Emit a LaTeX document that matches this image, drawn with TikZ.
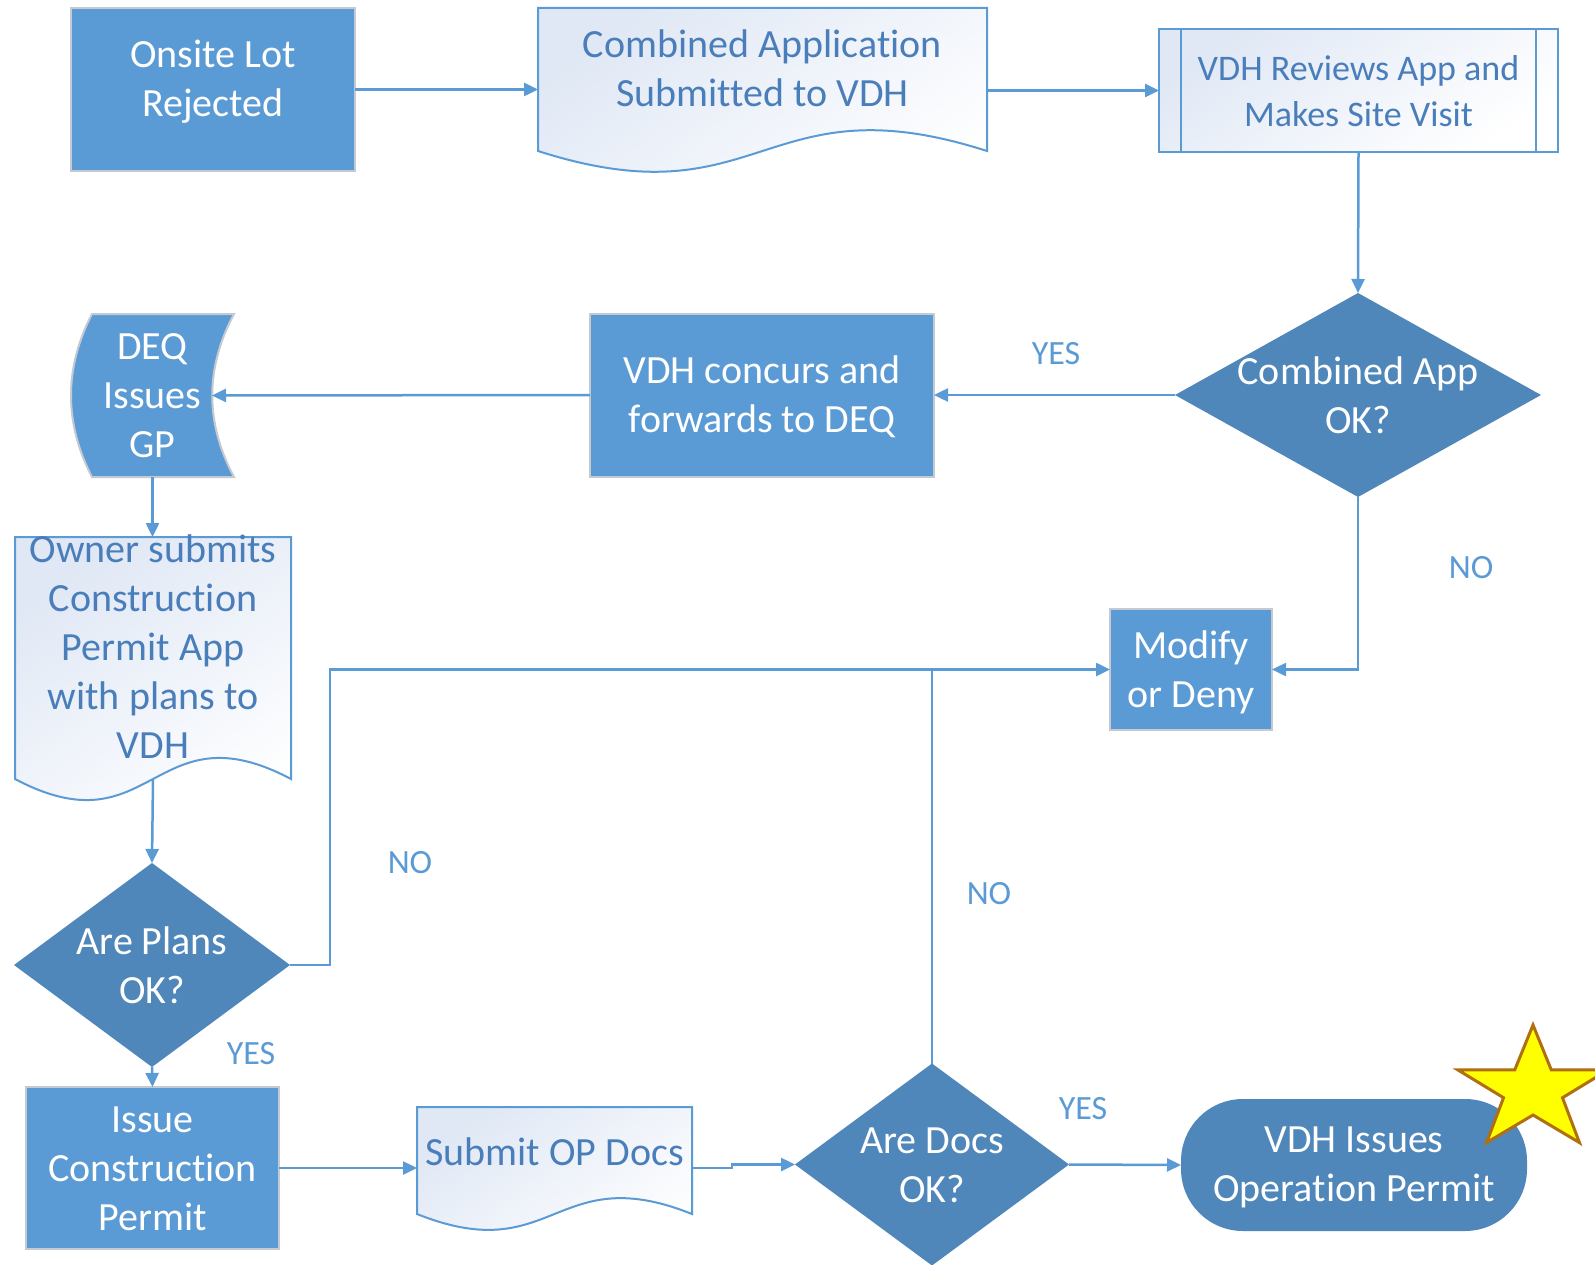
\documentclass[tikz,border=0pt]{standalone}
\usepackage{fontspec}
\setmainfont{Carlito}[Ligatures=NoCommon]
\usetikzlibrary{shapes.geometric,arrows.meta,calc}
\definecolor{boxblue}{HTML}{5B9BD5}
\definecolor{diablue}{HTML}{4F87BA}
\definecolor{boxline}{HTML}{C3CAD2}
\definecolor{docline}{HTML}{5B9BD5}
\definecolor{doctext}{HTML}{4A7EBB}
\definecolor{docfill}{HTML}{E0E8F5}
\definecolor{conncol}{HTML}{5B9BD5}
\definecolor{starfill}{HTML}{FFFF00}
\definecolor{starline}{HTML}{B0700F}
\newcommand{\docwave}[2]{%
  \draw[docshade] (#1.north west) -- (#1.north east) -- (#1.south east)
    .. controls ($(#1.south)+(0,-#2)$) and ($(#1.south)+(0,#2)$) .. (#1.south west) -- cycle;}
\begin{document}
\begin{tikzpicture}[x=1pt,y=-1pt,
  procbox/.style={rectangle, fill=boxblue, draw=boxline, line width=2pt, inner sep=0pt, outer sep=0pt},
  decbox/.style={diamond, fill=diablue, inner sep=0pt, outer sep=0pt},
  docbox/.style={rectangle, inner sep=0pt, outer sep=0pt},
  wtxt/.style={text=white, align=center, font=\fontsize{40}{49}\selectfont, inner sep=0pt},
  btxt/.style={text=doctext, align=center, font=\fontsize{40}{49}\selectfont, inner sep=0pt},
  lbl/.style={text=conncol, font=\fontsize{34}{40}\selectfont, inner sep=0pt},
  conn/.style={draw=conncol, line width=2.5pt},
  arr/.style={conn, -{Triangle[length=14pt,width=13pt]}},
  docshade/.style={draw=docline, line width=2pt, top color=docfill, bottom color=white, shading angle=35},
]
\useasboundingbox (0,0) rectangle (1595,1265);
\fill[white] (0,0) rectangle (1595,1265);

% ---------- shapes ----------
\node[procbox, minimum width=284, minimum height=163] (onsite) at (213,89.5) {};
\node[wtxt] (onsiteT) at (213,82) {Onsite Lot\\Rejected};

\node[docbox, minimum width=449, minimum height=143] (combined) at (762.5,79.5) {};
\docwave{combined}{72}
\node[btxt] (combinedT) at (762.5,68) {Combined Application\\Submitted to VDH};

\node[docbox, minimum width=399, minimum height=123] (vdhr) at (1358.5,90.5) {};
\draw[docshade] (vdhr.north west) rectangle (vdhr.south east);
\draw[draw=docline, line width=2pt] ($(vdhr.north west)+(22,0)$) -- ($(vdhr.south west)+(22,0)$)
  ($(vdhr.north east)+(-22,0)$) -- ($(vdhr.south east)+(-22,0)$);
\node[btxt, font=\fontsize{36}{46}\selectfont] (vdhrT) at (1358.5,91) {VDH Reviews App and\\Makes Site Visit};

\node[decbox, minimum width=366, minimum height=204] (okapp) at (1358,395) {};
\node[wtxt] (okappT) at (1358,395) {Combined App\\OK?};

\node[procbox, minimum width=344, minimum height=163] (vdhc) at (762,395) {};
\node[wtxt] (vdhcT) at (762,397) {VDH concurs and\\forwards to DEQ};

\filldraw[fill=boxblue, draw=boxline, line width=2pt]
  (92,314) -- (234,314) .. controls (205,368) and (205,423) .. (234,477)
  -- (92,477) .. controls (64,423) and (64,368) .. (92,314) -- cycle;
\node[docbox, minimum width=119, minimum height=163] (deq) at (152.5,395.5) {};
\node[wtxt] (deqT) at (152.5,396) {DEQ\\Issues\\GP};

\node[docbox, minimum width=276, minimum height=242] (owner) at (153,658) {};
\docwave{owner}{73}
\node[btxt] (ownerT) at (153,647) {Owner submits\\Construction\\Permit App\\with plans to\\VDH};

\node[decbox, minimum width=276, minimum height=204] (plans) at (152,965) {};
\node[wtxt] (plansT) at (152,965) {Are Plans\\OK?};

\node[procbox, minimum width=162, minimum height=121] (modify) at (1191,669.5) {};
\node[wtxt] (modifyT) at (1191,672) {Modify\\or Deny};

\node[procbox, minimum width=253, minimum height=162] (issue) at (152.5,1168) {};
\node[wtxt] (issueT) at (152.5,1169) {Issue\\Construction\\Permit};

\node[docbox, minimum width=275, minimum height=107] (subop) at (554.5,1160.5) {};
\docwave{subop}{55}
\node[btxt] (subopT) at (554.5,1152) {Submit OP Docs};

\node[decbox, minimum width=274, minimum height=202] (docs) at (932,1164.5) {};
\node[wtxt] (docsT) at (932,1165) {Are Docs\\OK?};

\node[rectangle, fill=diablue, rounded corners=62pt, minimum width=346, minimum height=132, inner sep=0pt, outer sep=0pt] (vdhi) at (1354,1165) {};
\node[wtxt] (vdhiT) at (1354,1167) {VDH Issues\\Operation Permit};

% star
\filldraw[fill=starfill, draw=starline, line width=3pt, line join=miter]
  (1533,1090) +(-90:79 and 65) -- +(-54:31 and 25) -- +(-18:79 and 65) -- +(18:31 and 25)
  -- +(54:79 and 65) -- +(90:31 and 25) -- +(126:79 and 65) -- +(162:31 and 25)
  -- +(198:79 and 65) -- +(234:31 and 25) -- cycle;

% ---------- connectors ----------
\coordinate (jn) at (330,669.5);
\draw[arr] (onsite.east) -- (onsite.east -| combined.west);
\draw[arr] (combined.east |- vdhr.west) -- (vdhr.west);
\draw[arr] (vdhr.south) -- (okapp.north);
\draw[arr] (okapp.west) -- (vdhc.east);
\draw[arr] (vdhc.west) -- (deq.east);
\draw[arr] (deq.south) -- (deq.south |- owner.north);
\draw[arr] (owner.south) -- (plans.north);
\draw[arr] (plans.east) -| (jn) -- (modify.west);
\draw[arr] (okapp.south) |- (modify.east);
\draw[conn] (docs.north) -- (docs.north |- jn);
\draw[arr] (plans.south) -- (issue.north);
\draw[arr] (issue.east) -- (issue.east -| subop.west);
\draw[arr] ([yshift=-7.5pt]subop.east) -- ++(40,0) |- (docs.west);
\draw[arr] (docs.east) -- (vdhi.west);

% ---------- labels ----------
\node[lbl] (yes1) at (1056,354) {YES};
\node[lbl] (no1) at (1471,568) {NO};
\node[lbl] (no2) at (410,863) {NO};
\node[lbl] (no3) at (989,894) {NO};
\node[lbl] (yes2) at (251,1054) {YES};
\node[lbl] (yes3) at (1083,1109) {YES};
\end{tikzpicture}
\end{document}
